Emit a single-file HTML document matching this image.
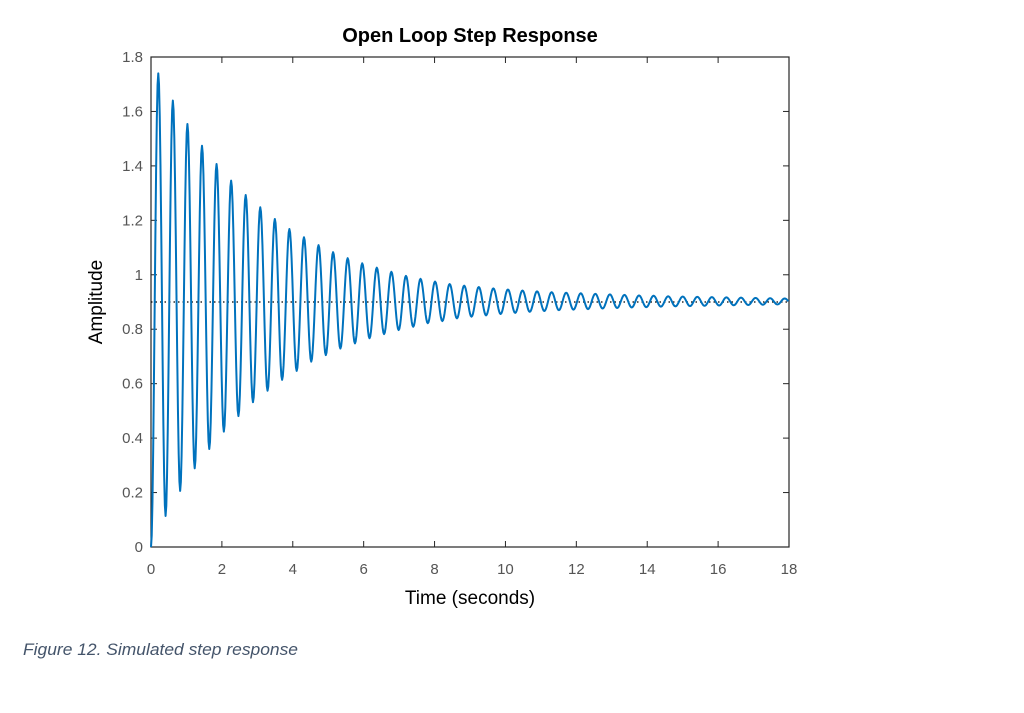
<!DOCTYPE html>
<html><head><meta charset="utf-8"><style>
html,body{margin:0;padding:0;background:#fff;}
svg{display:block;}
</style></head><body>
<svg id="chart" width="1024" height="713" viewBox="0 0 1024 713" xmlns="http://www.w3.org/2000/svg" font-family="Liberation Sans, Arial, sans-serif">
<rect width="1024" height="713" fill="#fff"/>
<text x="470" y="42" text-anchor="middle" font-size="20" font-weight="bold" fill="#000">Open Loop Step Response</text>
<g id="axes"></g>
<g id="series"></g>
<text transform="translate(102,302) rotate(-90)" text-anchor="middle" font-size="19" fill="#000">Amplitude</text>
<text x="470" y="604" text-anchor="middle" font-size="19" fill="#000">Time (seconds)</text>
<text x="23" y="655" font-size="17" font-style="italic" fill="#44546A" textLength="275" lengthAdjust="spacingAndGlyphs">Figure 12. Simulated step response</text>
</svg>
<script>
const xTicks = [0,2,4,6,8,10,12,14,16,18];
const yTicks = [0,0.2,0.4,0.6,0.8,1,1.2,1.4,1.6,1.8];
const yTickLabels = ["0","0.2","0.4","0.6","0.8","1","1.2","1.4","1.6","1.8"];
const steadyState = 0.9;
const period = 0.411;
const peaks = [1.740,1.640,1.554,1.474,1.407,1.346,1.293,1.248,1.205,1.168,1.138,1.109,1.083,1.061,1.042,1.026,1.011,0.996,0.985,0.975,0.966,0.960,0.955,0.950,0.946,0.942,0.939,0.936,0.934,0.932,0.930,0.928,0.926,0.924,0.923,0.921,0.920,0.919,0.918,0.917,0.916,0.915,0.914,0.913];
const troughs = [0.114,0.206,0.289,0.360,0.424,0.481,0.532,0.574,0.614,0.647,0.681,0.705,0.729,0.748,0.767,0.782,0.797,0.809,0.822,0.830,0.840,0.846,0.851,0.856,0.860,0.864,0.867,0.870,0.872,0.874,0.876,0.878,0.880,0.881,0.883,0.884,0.885,0.886,0.887,0.888,0.889,0.890,0.891,0.892];

const L=151,R=789,T=57,B=547,xMax=18,yMax=1.8;
const xs=v=>L+(R-L)*v/xMax;
const ys=v=>B-(B-T)*v/yMax;
const NS="http://www.w3.org/2000/svg";
function mk(tag,attrs,parent){const e=document.createElementNS(NS,tag);for(const k in attrs)e.setAttribute(k,attrs[k]);parent.appendChild(e);return e;}
const ax=document.getElementById('axes');
const box=mk('rect',{x:L,y:T,width:R-L,height:B-T,fill:'none',stroke:'#262626','stroke-width':1.2},ax);


xTicks.forEach(v=>{
  const x=xs(v);
  mk('line',{x1:x,y1:B,x2:x,y2:B-6,stroke:'#262626'},ax);
  mk('line',{x1:x,y1:T,x2:x,y2:T+6,stroke:'#262626'},ax);
  const t=mk('text',{x:x,y:B+27,'text-anchor':'middle','font-size':15,fill:'#555'},ax);
  t.textContent=v;
  
  
});
yTicks.forEach((v,i)=>{
  const y=ys(v);
  mk('line',{x1:L,y1:y,x2:L+6,y2:y,stroke:'#262626'},ax);
  mk('line',{x1:R,y1:y,x2:R-6,y2:y,stroke:'#262626'},ax);
  const t=mk('text',{x:L-8,y:y+5,'text-anchor':'end','font-size':15,fill:'#555'},ax);
  t.textContent=yTickLabels[i];
  
  
});
const sg=document.getElementById('series');
const ss=mk('line',{x1:L,y1:ys(steadyState),x2:R,y2:ys(steadyState),stroke:'#000','stroke-width':1.3,'stroke-dasharray':'1.5 3'},sg);


// extrema sequence
const ext=[[0,0]];
for(let k=0;k<peaks.length;k++){
  ext.push([(k+0.5)*period,peaks[k]]);
  if(k<troughs.length) ext.push([(k+1)*period,troughs[k]]);
}
let d='M'+xs(0)+' '+ys(0);
for(let i=1;i<ext.length;i++){
  const [t0,v0]=ext[i-1],[t1,v1]=ext[i];
  for(let s=1;s<=10;s++){
    const f=s/10,t=t0+(t1-t0)*f;
    if(t>xMax)break;
    const v=v0+(v1-v0)*(1-Math.cos(Math.PI*f))/2;
    d+=' L'+xs(t).toFixed(2)+' '+ys(v).toFixed(2);
  }
}
const p=mk('path',{d:d,fill:'none',stroke:'#0072BD','stroke-width':2,'stroke-linejoin':'round'},sg);


</script>
</body></html>
